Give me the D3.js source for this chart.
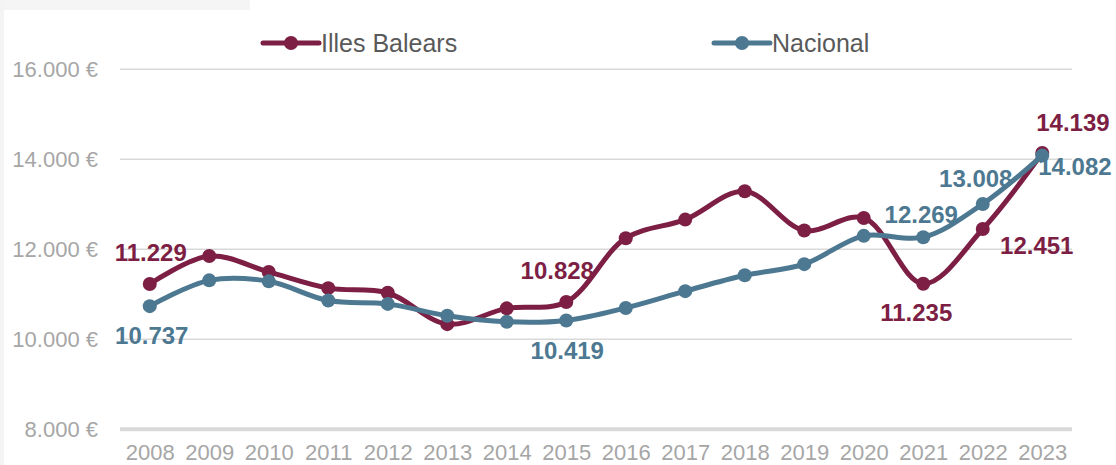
<!DOCTYPE html>
<html>
<head>
<meta charset="utf-8">
<script src="https://cdn.jsdelivr.net/npm/d3@7"></script>
<style>
  html, body { margin: 0; padding: 0; background: #fff; }
  svg { display: block; font-family: "Liberation Sans", Arial, sans-serif; }
</style>
</head>
<body>
<script>
// data
const years = [2008, 2009, 2010, 2011, 2012, 2013, 2014, 2015, 2016, 2017, 2018, 2019, 2020, 2021, 2022, 2023];
const balears = [11229, 11850, 11497, 11137, 11034, 10337, 10688, 10828, 12247, 12660, 13290, 12418, 12697, 11235, 12451, 14139];
const nacional = [10737, 11310, 11288, 10861, 10787, 10524, 10389, 10419, 10697, 11070, 11422, 11670, 12299, 12269, 13008, 14082];
const yTicks = [8000, 10000, 12000, 14000, 16000];
const seriesNames = ["Illes Balears", "Nacional"];

// which points carry a value label, and where it sits
const labelSpots = [
  { s: 0, year: 2008, dx: 1, dy: -23, anchor: "middle" },
  { s: 1, year: 2008, dx: 2, dy: 38, anchor: "middle" },
  { s: 0, year: 2015, dx: -9, dy: -23, anchor: "middle" },
  { s: 1, year: 2015, dx: 1, dy: 39, anchor: "middle" },
  { s: 1, year: 2021, dx: -2, dy: -14, anchor: "middle" },
  { s: 1, year: 2022, dx: -7, dy: -17, anchor: "middle" },
  { s: 1, year: 2023, dx: -4, dy: 19, anchor: "start" },
  { s: 0, year: 2023, dx: -6, dy: -22, anchor: "start" },
  { s: 0, year: 2021, dx: -7, dy: 37, anchor: "middle" },
  { s: 0, year: 2022, dx: 54, dy: 25, anchor: "middle" }
];

const width = 1116, height = 465;
const colors = ["#7d1f44", "#4d7891"];

const svg = d3.select("body").append("svg")
  .attr("width", width)
  .attr("height", height);

// faint background bits at the edge of the screenshot
svg.append("rect").attr("x", 0).attr("y", 0).attr("width", 250).attr("height", 10).attr("fill", "#f6f5f5");
svg.append("rect").attr("x", 0).attr("y", 0).attr("width", 4).attr("height", height).attr("fill", "#f5f4f4");

const x = d3.scalePoint()
  .domain(years)
  .range([120, 1072])
  .padding(0.5);

const y = d3.scaleLinear()
  .domain([8000, 16000])
  .range([429.3, 69.3]);

const es = d3.formatLocale({ decimal: ",", thousands: ".", grouping: [3], currency: ["", " €"] });
const fmt = es.format(",d");

// gridlines + y labels
const yAxis = svg.append("g")
  .attr("transform", "translate(120,0)")
  .call(d3.axisLeft(y).tickValues(yTicks).tickSize(0).tickPadding(22).tickFormat(d => fmt(d) + " €"));
yAxis.select(".domain").remove();
yAxis.selectAll("text")
  .attr("fill", "#a6a6a6")
  .style("font-size", "22px");

svg.append("g")
  .selectAll("line")
  .data(yTicks)
  .join("line")
  .attr("x1", 120)
  .attr("x2", 1072)
  .attr("y1", d => y(d))
  .attr("y2", d => y(d))
  .attr("stroke", "#d9d9d9")
  .attr("stroke-width", d => d === 8000 ? 4 : 1.5);

// x labels
const xAxis = svg.append("g")
  .attr("transform", "translate(0,444)")
  .call(d3.axisBottom(x).tickSize(0).tickPadding(0));
xAxis.select(".domain").remove();
xAxis.selectAll("text")
  .attr("fill", "#a6a6a6")
  .attr("dy", "0.71em")
  .style("font-size", "22px");

// lines + markers
const series = [balears, nacional];
const line = d3.line()
  .x((d, i) => x(years[i]))
  .y(d => y(d))
  .curve(d3.curveCatmullRom.alpha(0.5));

series.forEach((vals, s) => {
  const g = svg.append("g");
  g.append("path")
    .datum(vals)
    .attr("d", line)
    .attr("fill", "none")
    .attr("stroke", colors[s])
    .attr("stroke-width", 5)
    .attr("stroke-linejoin", "round")
    .attr("stroke-linecap", "round");
  g.selectAll("circle")
    .data(vals)
    .join("circle")
    .attr("cx", (d, i) => x(years[i]))
    .attr("cy", d => y(d))
    .attr("r", 7)
    .attr("fill", colors[s]);
});

// value labels
svg.append("g")
  .selectAll("text")
  .data(labelSpots)
  .join("text")
  .attr("x", d => x(d.year) + d.dx)
  .attr("y", d => y(series[d.s][years.indexOf(d.year)]) + d.dy)
  .attr("text-anchor", d => d.anchor)
  .attr("fill", d => colors[d.s])
  .style("font-size", "24px")
  .style("font-weight", "bold")
  .text(d => fmt(series[d.s][years.indexOf(d.year)]));

// legend
const legendX = [263, 714];
const legend = svg.append("g")
  .selectAll("g")
  .data(seriesNames)
  .join("g")
  .attr("transform", (d, i) => `translate(${legendX[i]},43)`);
legend.append("line")
  .attr("x1", 0).attr("x2", 56)
  .attr("stroke", (d, i) => colors[i])
  .attr("stroke-width", 5)
  .attr("stroke-linecap", "round");
legend.append("circle")
  .attr("cx", 28)
  .attr("r", 7)
  .attr("fill", (d, i) => colors[i]);
legend.append("text")
  .attr("x", 58)
  .attr("dy", "0.35em")
  .attr("fill", "#595959")
  .style("font-size", "25px")
  .text(d => d);
</script>
</body>
</html>
